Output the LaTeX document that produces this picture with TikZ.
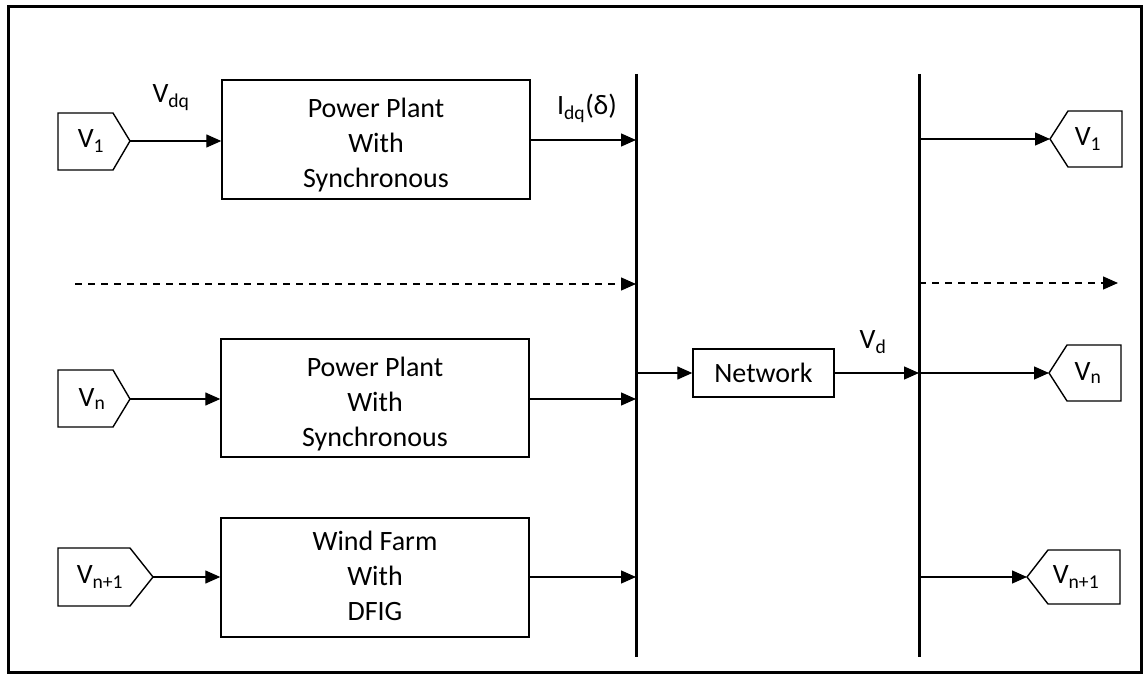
\documentclass[tikz,border=0pt]{standalone}
\usepackage{fontspec}
\setmainfont{Carlito}
\usetikzlibrary{arrows.meta}
\tikzset{
  txt/.style={font=\fontsize{28}{35}\selectfont, inner sep=0pt, align=center},
  blk/.style={draw, line width=1.4pt},
  conn/.style={line width=1.3pt, -{Triangle[length=15pt,width=13pt]}},
  dconn/.style={conn, dash pattern=on 7pt off 6pt},
  bus/.style={line width=3pt},
  tag/.style={draw, line width=1.4pt, line join=miter},
}
\begin{document}
\begin{tikzpicture}[x=1pt,y=-1pt]
\useasboundingbox (0,0) rectangle (1143,676);
\draw[line width=3pt] (8,7) rectangle (1141,672);

% buses
\coordinate (bus1t) at (636,74); \coordinate (bus1b) at (636,657);
\coordinate (bus2t) at (919,74); \coordinate (bus2b) at (919,657);
\draw[bus] (bus1t) -- (bus1b);
\draw[bus] (bus2t) -- (bus2b);

% blocks
\node[blk, minimum width=308pt, minimum height=119pt] (b1) at (376,139.5) {};
\node[txt] (b1t) at (376,145) {Power Plant\\With\\Synchronous};
\node[blk, minimum width=308pt, minimum height=118pt] (b2) at (375,398) {};
\node[txt] (b2t) at (375,404) {Power Plant\\With\\Synchronous};
\node[blk, minimum width=308pt, minimum height=119pt] (b3) at (375,577.5) {};
\node[txt] (b3t) at (375,576) {Wind Farm\\With\\DFIG};
\node[blk, txt, minimum width=141pt, minimum height=48pt] (net) at (763.5,373) {Network};

% left tags
\node[txt] (tl1) at (91,141) {V\textsubscript{1}};
\draw[tag] (58,113) -- (113,113) -- (130,141) -- (113,170) -- (58,170) -- cycle;
\coordinate (tl1p) at (130,141);
\node[txt] (tln) at (92,399) {V\textsubscript{n}};
\draw[tag] (58,370) -- (113,370) -- (130,399) -- (113,427) -- (58,427) -- cycle;
\coordinate (tlnp) at (130,399);
\node[txt] (tlm) at (100,577) {V\textsubscript{n+1}};
\draw[tag] (58,548) -- (130,548) -- (153,577) -- (130,606) -- (58,606) -- cycle;
\coordinate (tlmp) at (153,577);

% right tags
\node[txt] (tr1) at (1088,139) {V\textsubscript{1}};
\draw[tag] (1050,139) -- (1068,111) -- (1122,111) -- (1122,167) -- (1068,167) -- cycle;
\coordinate (tr1p) at (1050,139);
\node[txt] (trn) at (1088,373) {V\textsubscript{n}};
\draw[tag] (1049,373) -- (1067,345) -- (1121,345) -- (1121,401) -- (1067,401) -- cycle;
\coordinate (trnp) at (1049,373);
\node[txt] (trm) at (1076,577) {V\textsubscript{n+1}};
\draw[tag] (1027,577) -- (1048,550) -- (1120,550) -- (1120,604) -- (1048,604) -- cycle;
\coordinate (trmp) at (1027,577);

% labels
\node[txt] (lvdq) at (171,98) {V\textsubscript{dq}};
\node[txt] (lidq) at (587,108) {I\textsubscript{dq}(δ)};
\node[txt] (lvd) at (873,342) {V\textsubscript{d}};

% connectors left side
\draw[conn] (tl1p) -- (b1.west |- tl1p);
\draw[conn] (tlnp) -- (b2.west |- tlnp);
\draw[conn] (tlmp) -- (b3.west |- tlmp);
\coordinate (b1o) at (b1.east |- 0,140);
\draw[conn] (b1o) -- (bus1t |- b1o);
\coordinate (b2o) at (b2.east |- tlnp);
\draw[conn] (b2o) -- (bus1t |- b2o);
\coordinate (b3o) at (b3.east |- tlmp);
\draw[conn] (b3o) -- (bus1t |- b3o);
\coordinate (dl) at (75,284);
\draw[dconn] (dl) -- (bus1t |- dl);

% network
\draw[conn] (bus1t |- net.west) -- (net.west);
\draw[conn] (net.east) -- (bus2t |- net.east);

% right side
\draw[conn] (bus2t |- tr1p) -- (tr1p);
\draw[conn] (bus2t |- trnp) -- (trnp);
\draw[conn] (bus2t |- trmp) -- (trmp);
\coordinate (dr) at (1118,283);
\draw[dconn] (bus2t |- dr) -- (dr);
\end{tikzpicture}
\end{document}
